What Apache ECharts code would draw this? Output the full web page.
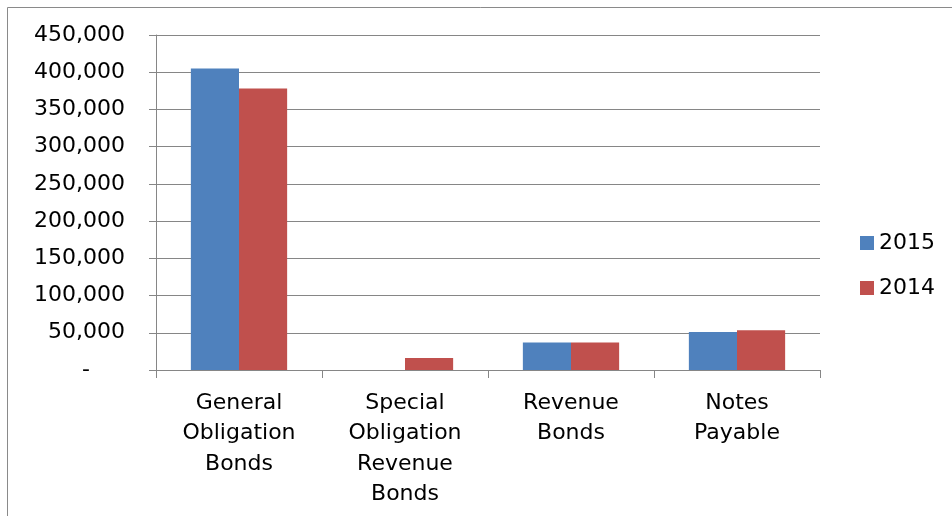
<!DOCTYPE html>
<html>
<head>
<meta charset="utf-8">
<script src="https://cdn.jsdelivr.net/npm/echarts@6/dist/echarts.min.js"></script>
<style>
html,body{margin:0;padding:0;background:#fff;}
#c{width:952px;height:516px;}
</style>
</head>
<body>
<div id="c"></div>
<script>
const categories = ['General\nObligation\nBonds', 'Special\nObligation\nRevenue\nBonds', 'Revenue\nBonds', 'Notes\nPayable'];
const seriesNames = ['2015', '2014'];
const values2015 = [405000, 0, 37000, 51000];
const values2014 = [378000, 16000, 37000, 53500];
const yTicks = { min: 0, max: 450000, interval: 50000 };

const FONT = 'DejaVu Sans';
const chart = echarts.init(document.getElementById('c'), null, { renderer: 'canvas' });
chart.setOption({
  animation: false,
  backgroundColor: '#fff',
  textStyle: { fontFamily: FONT },
  graphic: [{
    type: 'rect',
    shape: { x: 7.5, y: 7.5, width: 1000, height: 600 },
    style: { fill: 'none', stroke: '#8a8a8a', lineWidth: 1 },
    silent: true
  }],
  grid: { left: 156, right: 132, top: 35, bottom: 146, containLabel: false },
  legend: {
    orient: 'vertical',
    left: 860, top: 232, padding: 0,
    itemWidth: 14, itemHeight: 14, itemGap: 23,
    icon: 'rect',
    textStyle: { fontFamily: FONT, fontSize: 22, color: '#000' },
    data: seriesNames
  },
  xAxis: {
    type: 'category',
    data: categories,
    axisLine: { lineStyle: { color: '#868686', width: 1 } },
    axisTick: { show: true, length: 8, inside: false, alignWithLabel: false, lineStyle: { color: '#868686' } },
    axisLabel: { fontFamily: FONT, fontSize: 22, color: '#000', lineHeight: 30.5, margin: 18, interval: 0 }
  },
  yAxis: {
    type: 'value',
    min: yTicks.min, max: yTicks.max, interval: yTicks.interval,
    axisLine: { show: true, lineStyle: { color: '#868686', width: 1 } },
    axisTick: { show: true, length: 7, inside: false, lineStyle: { color: '#868686' } },
    splitLine: { show: true, lineStyle: { color: '#868686', width: 1 } },
    axisLabel: {
      fontFamily: FONT, fontSize: 22, color: '#000', margin: 31,
      formatter: function (v) { return v === 0 ? '-     ' : v.toLocaleString('en-US'); }
    }
  },
  series: [
    { name: seriesNames[0], type: 'bar', data: values2015, barGap: '0%', barCategoryGap: '42%', itemStyle: { color: '#4F81BD' } },
    { name: seriesNames[1], type: 'bar', data: values2014, barGap: '0%', barCategoryGap: '42%', itemStyle: { color: '#C0504D' } }
  ]
});
</script>
</body>
</html>
